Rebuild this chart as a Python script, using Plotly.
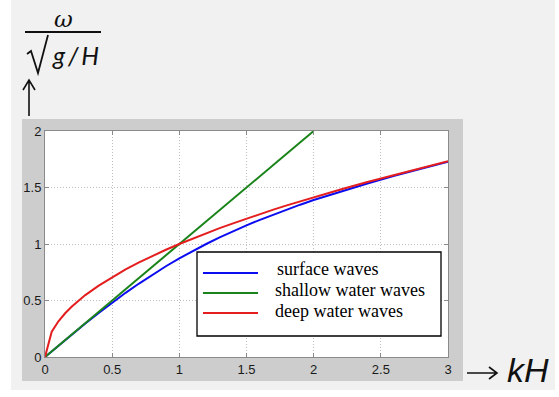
import plotly.graph_objects as go

# ---- data ----
kh = [0, 0.05, 0.1, 0.15, 0.2, 0.3, 0.4, 0.5, 0.6, 0.7, 0.8, 0.9, 1.0,
      1.1, 1.2, 1.3, 1.4, 1.5, 1.6, 1.7, 1.8, 1.9, 2.0, 2.2, 2.4, 2.6, 2.8, 3.0]
surface = [0, 0.050, 0.100, 0.149, 0.199, 0.296, 0.390, 0.481, 0.568, 0.650,
           0.729, 0.803, 0.873, 0.938, 1.000, 1.058, 1.113, 1.165, 1.214,
           1.261, 1.305, 1.348, 1.389, 1.465, 1.536, 1.604, 1.667, 1.728]
deep = [0, 0.224, 0.316, 0.387, 0.447, 0.548, 0.632, 0.707, 0.775, 0.837,
        0.894, 0.949, 1.000, 1.049, 1.095, 1.140, 1.183, 1.225, 1.265,
        1.304, 1.342, 1.378, 1.414, 1.483, 1.549, 1.612, 1.673, 1.732]
shallow_kh = [0, 2.0]
shallow = [0, 2.0]

series_names = ["surface waves", "shallow water waves", "deep water waves"]
series_colors = ["#0c0cf0", "#1a841a", "#e41e1e"]
x_ticks = [0, 0.5, 1, 1.5, 2, 2.5, 3]
x_tick_text = ["0", "0.5", "1", "1.5", "2", "2.5", "3"]
y_ticks = [0, 0.5, 1, 1.5, 2]
y_tick_text = ["0", "0.5", "1", "1.5", "2"]

# ---- layout geometry (pixels) ----
W, H = 559, 397
ML, MR, MT, MB = 45, 111, 131, 40
PW, PH = W - ML - MR, H - MT - MB


def px(x):
    return (x - ML) / PW


def py(y):
    return 1 - (y - MT) / PH


fig = go.Figure()
fig.add_trace(go.Scatter(x=kh, y=surface, mode="lines", name=series_names[0],
                         line=dict(color=series_colors[0], width=2)))
fig.add_trace(go.Scatter(x=shallow_kh, y=shallow, mode="lines", name=series_names[1],
                         line=dict(color=series_colors[1], width=2)))
fig.add_trace(go.Scatter(x=kh, y=deep, mode="lines", name=series_names[2],
                         line=dict(color=series_colors[2], width=2)))

shapes = []
# backgrounds
shapes.append(dict(type="rect", xref="paper", yref="paper", layer="below",
                   x0=px(11), x1=px(555), y0=py(0), y1=py(390),
                   fillcolor="#f1f1f1", line=dict(width=0)))
shapes.append(dict(type="rect", xref="paper", yref="paper", layer="below",
                   x0=px(22), x1=px(463), y0=py(119), y1=py(381),
                   fillcolor="#cdcdcd", line=dict(width=0)))
shapes.append(dict(type="rect", xref="paper", yref="paper", layer="below",
                   x0=0, x1=1, y0=0, y1=1,
                   fillcolor="#ffffff", line=dict(width=0)))

# legend box
shapes.append(dict(type="rect", xref="paper", yref="paper",
                   x0=px(197), x1=px(441), y0=py(252), y1=py(336),
                   fillcolor="#ffffff", line=dict(color="#000000", width=1.3)))
leg_line_y = [273, 293, 313]
leg_text_y = [269, 290, 311]
leg_text_x = [275, 273, 273]
annotations = []
for i in range(3):
    shapes.append(dict(type="line", xref="paper", yref="paper",
                       x0=px(203), x1=px(258), y0=py(leg_line_y[i]), y1=py(leg_line_y[i]),
                       line=dict(color=series_colors[i], width=2.2)))
    annotations.append(dict(xref="paper", yref="paper", x=px(leg_text_x[i]), y=py(leg_text_y[i]),
                            xanchor="left", yanchor="middle", showarrow=False,
                            text=series_names[i],
                            font=dict(family="Liberation Serif", size=18, color="#000000")))

# y label: omega / sqrt(g/H)
annotations.append(dict(xref="paper", yref="paper", x=px(63), y=py(19),
                        xanchor="center", yanchor="middle", showarrow=False,
                        text="<i>ω</i>",
                        font=dict(family="DejaVu Serif", size=23, color="#111111")))
shapes.append(dict(type="line", xref="paper", yref="paper",
                   x0=px(25), x1=px(101), y0=py(32), y1=py(32),
                   line=dict(color="#111111", width=2)))
shapes.append(dict(type="path", xref="paper", yref="paper",
                   path="M {} {} L {} {} L {} {} L {} {}".format(
                       px(27), py(54), px(31), py(51), px(38), py(73), px(48), py(35)),
                   line=dict(color="#111111", width=1.8)))
annotations.append(dict(xref="paper", yref="paper", x=px(50), y=py(55),
                        xanchor="left", yanchor="middle", showarrow=False,
                        text="<i>g\u2009/\u2009H</i>",
                        font=dict(family="Lato", size=25, color="#111111")))
# up arrow
shapes.append(dict(type="path", xref="paper", yref="paper",
                   path="M {} {} L {} {} M {} {} L {} {} L {} {}".format(
                       px(29), py(116), px(29), py(80),
                       px(23), py(90), px(29), py(80), px(35), py(90)),
                   line=dict(color="#111111", width=1.6)))
# right arrow and kH
shapes.append(dict(type="path", xref="paper", yref="paper",
                   path="M {} {} L {} {} M {} {} L {} {} L {} {}".format(
                       px(467), py(373), px(497), py(373),
                       px(489), py(367), px(497), py(373), px(489), py(379)),
                   line=dict(color="#111111", width=1.6)))
annotations.append(dict(xref="paper", yref="paper", x=px(505), y=py(370),
                        xanchor="left", yanchor="middle", showarrow=False,
                        text="<i>kH</i>",
                        font=dict(family="Liberation Sans", size=34, color="#111111")))

axis_common = dict(showgrid=True, gridcolor="#bdbdbd", griddash="1px,2px", gridwidth=1,
                   zeroline=False, showline=True, linecolor="#8a8a8a", linewidth=1,
                   mirror="ticks", ticks="inside", ticklen=4, tickcolor="#8a8a8a",
                   tickfont=dict(family="Liberation Sans", size=13, color="#1a1a1a"))

fig.update_layout(
    width=W, height=H,
    margin=dict(l=ML, r=MR, t=MT, b=MB, pad=0),
    paper_bgcolor="#ffffff", plot_bgcolor="#ffffff",
    showlegend=False,
    xaxis=dict(range=[0, 3], tickvals=x_ticks, ticktext=x_tick_text, **axis_common),
    yaxis=dict(range=[0, 2], tickvals=y_ticks, ticktext=y_tick_text, **axis_common),
    shapes=shapes,
    annotations=annotations,
)

fig.write_html("out.html",
               config={"displayModeBar": False},
               post_script="document.body.style.margin='0';document.body.style.overflow='hidden';")
